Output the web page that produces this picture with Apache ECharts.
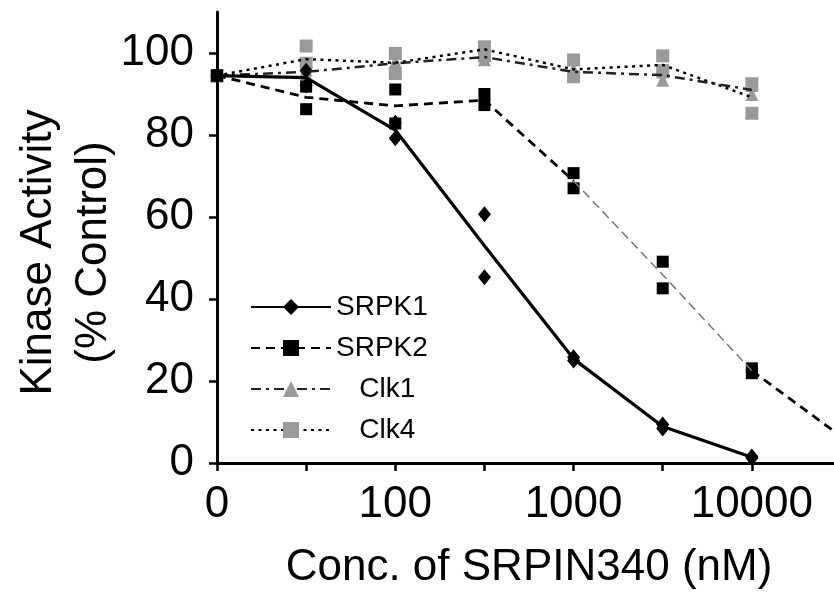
<!DOCTYPE html>
<html><head><meta charset="utf-8">
<script src="https://cdn.jsdelivr.net/npm/echarts@6/dist/echarts.min.js"></script>
<style>html,body{margin:0;padding:0;background:#fff}#c{width:834px;height:601px}</style>
</head><body><div id="c"></div>
<script>
// ---- data ----
const categories = ['0','30','100','300','1000','3000','10000','30000'];
const xTickLabels = ['0','100','1000','10000'];
const yTicks = [0,20,40,60,80,100];
const legendNames = ['SRPK1','SRPK2','Clk1','Clk4'];

// line (mean) values
const srpk1Line = [94.5, 94.0, 81.2, 53.0, 25.4, 8.9, 1.4, '-'];
const srpk2Line = [94.5, 89.2, 87.1, 88.5, 68.8, 45.9, 22.5, 6.5];
const clk1Line  = [94.5, 95.4, 97.5, 99.0, 95.4, 94.6, 91.0, '-'];
const clk4Line  = [94.5, 98.5, 97.6, 100.9, 96.0, 97.1, 89.2, '-'];

// replicate points
const srpk1RepA = [94.5, 95.7, 83.0, 60.7, 25.8, 9.4, 1.6, null];
const srpk1RepB = [94.5, 92.1, 79.2, 45.3, 25.0, 8.4, 1.2, null];
const srpk2RepA = [94.5, 91.8, 91.1, 90.0, 70.7, 49.1, 23.1, 7.0];
const srpk2RepB = [94.5, 86.3, 82.8, 87.3, 67.0, 42.6, 21.9, 6.0];
const clk1RepA  = [94.5, 96.0, 98.0, 99.5, 96.0, 95.5, 92.2, null];
const clk1RepB  = [94.5, 94.8, 97.0, 98.5, 94.8, 93.5, 90.0, null];
const clk4RepA  = [94.5, 101.7, 99.9, 101.5, 98.3, 99.3, 92.5, null];
const clk4RepB  = [94.5, 97.5, 95.0, 99.3, 94.2, 95.7, 85.3, null];

// ---- build ----
const FONT = 'Liberation Sans';
const GRAY = '#9a9a9a';
function pts(...reps){
  const out = [];
  reps.forEach(r => r.forEach((v,i) => { if (v !== null) out.push([i, v]); }));
  return out;
}
const srpk2Heavy = srpk2Line.map((v,i) => categories[i] === '3000' ? '-' : v);
const srpk2Thin  = srpk2Line.map((v,i) => ['1000','3000','10000'].includes(categories[i]) ? v : '-');

const chart = echarts.init(document.getElementById('c'), null, {renderer:'canvas'});
chart.setOption({
  backgroundColor: '#fff',
  animation: false,
  grid: {left: 217, right: -7, top: 12, bottom: 138, containLabel: false, outerBoundsMode: 'none'},
  legend: {
    data: legendNames,
    orient: 'vertical', left: 245, top: 288,
    itemWidth: 80, itemHeight: 20, itemGap: 13,
    selectedMode: false,
    formatter: n => (n.startsWith('Clk') ? '   ' + n : n),
    textStyle: {fontSize: 28, color: '#000', fontFamily: FONT}
  },
  xAxis: {
    type: 'category', data: categories, boundaryGap: false,
    name: 'Conc. of SRPIN340 (nM)', nameLocation: 'middle', nameGap: 83, nameMoveOverlap: false,
    nameTextStyle: {fontSize: 44, color: '#000', fontFamily: FONT},
    axisLine: {lineStyle: {color: '#000', width: 3}},
    axisTick: {show: true, interval: 0, length: 8, lineStyle: {color: '#000', width: 2.5}},
    axisLabel: {interval: 0, margin: 20, fontSize: 44, color: '#000', fontFamily: FONT,
      formatter: v => xTickLabels.includes(v) ? v : ''},
    splitLine: {show: false}
  },
  yAxis: {
    type: 'value', min: 0, max: 110, interval: 20,
    name: 'Kinase Activity\n(% Control)', nameLocation: 'middle', nameGap: 96, nameRotate: 90, nameMoveOverlap: false,
    nameTextStyle: {fontSize: 44, color: '#000', fontFamily: FONT, lineHeight: 55, padding: [0, 30, 0, 0]},
    axisLine: {show: true, lineStyle: {color: '#000', width: 3}},
    axisTick: {show: true, length: 8, customValues: yTicks, lineStyle: {color: '#000', width: 2.5}},
    axisLabel: {margin: 23, fontSize: 44, color: '#000', fontFamily: FONT, customValues: yTicks},
    splitLine: {show: false}
  },
  series: [
    {name: 'Clk4', type: 'line', data: clk4Line, showSymbol: false, symbol: 'rect',
     itemStyle: {color: GRAY}, lineStyle: {color: '#000', width: 2.5, type: [3, 4.5]}},
    {name: 'Clk1', type: 'line', data: clk1Line, showSymbol: false, symbol: 'triangle',
     itemStyle: {color: GRAY}, lineStyle: {color: '#222', width: 2.5, type: [10, 5, 3, 5]}},
    {name: 'SRPK2 thin', type: 'line', data: srpk2Thin, showSymbol: false, symbol: 'none',
     lineStyle: {color: '#777', width: 1.5, type: [9, 5]}},
    {name: 'SRPK2', type: 'line', data: srpk2Heavy, showSymbol: false, symbol: 'rect',
     itemStyle: {color: '#000'}, lineStyle: {color: '#000', width: 2.8, type: [9, 6]}},
    {name: 'SRPK1', type: 'line', data: srpk1Line, showSymbol: false, symbol: 'diamond',
     itemStyle: {color: '#000'}, lineStyle: {color: '#000', width: 3.2, type: 'solid'}},
    {name: 'Clk4 pts', type: 'scatter', data: pts(clk4RepA, clk4RepB), symbol: 'rect', symbolSize: 13,
     itemStyle: {color: GRAY, opacity: 1}},
    {name: 'Clk1 pts', type: 'scatter', data: pts(clk1RepA, clk1RepB), symbol: 'triangle', symbolSize: [13, 14],
     itemStyle: {color: GRAY, opacity: 1}},
    {name: 'SRPK2 pts', type: 'scatter', data: pts(srpk2RepA, srpk2RepB), symbol: 'rect', symbolSize: 12,
     itemStyle: {color: '#000', opacity: 1}},
    {name: 'SRPK1 pts', type: 'scatter', data: pts(srpk1RepA, srpk1RepB), symbol: 'diamond', symbolSize: [13, 16],
     itemStyle: {color: '#000', opacity: 1}}
  ]
});
</script>
</body></html>
